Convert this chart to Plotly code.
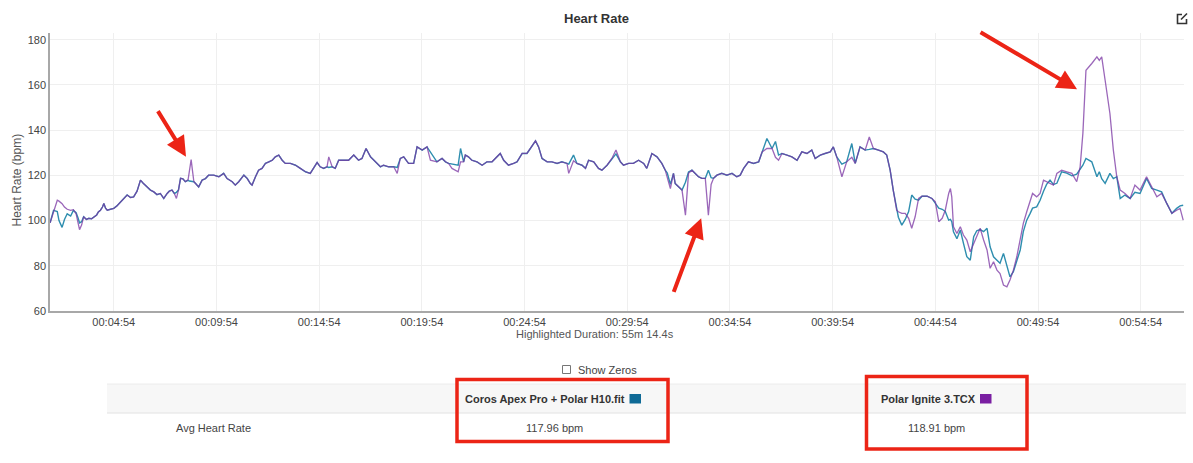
import plotly.graph_objects as go

# ---------------- data ----------------
t_sec = [108, 118, 129, 134, 143, 150, 158, 168, 176, 184, 190, 194, 200, 206, 214, 221, 229, 236, 244, 249,
         255, 261, 265, 270, 275, 284, 294, 303, 314, 322, 333, 343, 352, 362, 372, 380, 392, 401, 411, 420,
         430, 440, 450, 456, 464, 471, 477, 483, 489, 496, 503, 511, 515, 520, 524, 528, 533, 542, 552, 562,
         571, 586, 601, 615, 625, 640, 649, 659, 674, 684, 693, 698, 708, 717, 727, 737, 747, 757, 766, 776,
         786, 795, 810, 825, 839, 854, 868, 878, 888, 897, 907, 917, 922, 932, 941, 951, 966, 980, 995, 1009,
         1019, 1031, 1044, 1058, 1073, 1082, 1097, 1112, 1122, 1131, 1141, 1155, 1170, 1180, 1195, 1209, 1219, 1238, 1253, 1263,
         1272, 1282, 1300, 1307, 1316, 1321, 1330, 1340, 1355, 1370, 1384, 1399, 1413, 1423, 1433, 1447, 1462, 1472, 1487, 1501,
         1511, 1526, 1535, 1545, 1560, 1574, 1589, 1603, 1618, 1623, 1637, 1647, 1662, 1672, 1681, 1696, 1710, 1720, 1735, 1749,
         1761, 1774, 1783, 1798, 1812, 1827, 1842, 1851, 1866, 1881, 1895, 1905, 1911, 1920, 1929, 1934, 1944, 1954, 1964, 1973,
         1983, 1993, 2002, 2012, 2022, 2031, 2039, 2046, 2056, 2070, 2085, 2100, 2114, 2124, 2134, 2148, 2163, 2178, 2188, 2202,
         2217, 2227, 2236, 2246, 2261, 2275, 2290, 2304, 2319, 2333, 2343, 2358, 2372, 2387, 2396, 2406, 2421, 2435, 2450, 2460,
         2474, 2489, 2501, 2513, 2528, 2542, 2552, 2562, 2571, 2581, 2586, 2596, 2606, 2616, 2625, 2635, 2645, 2655, 2670, 2684,
         2694, 2704, 2714, 2723, 2733, 2738, 2742, 2747, 2757, 2767, 2776, 2786, 2796, 2806, 2815, 2825, 2835, 2845, 2854, 2864,
         2874, 2883, 2893, 2903, 2912, 2922, 2932, 2942, 2951, 2961, 2971, 2978, 2990, 3000, 3010, 3019, 3029, 3039, 3049, 3063,
         3078, 3093, 3107, 3117, 3125, 3134, 3151, 3166, 3173, 3180, 3190, 3204, 3214, 3224, 3234, 3248, 3263, 3277, 3292, 3311,
         3326, 3341, 3355, 3370, 3385, 3399, 3409, 3418]

polar_hr = [99, 104, 109, 108.6, 107.5, 106, 105, 104.5, 104.8, 103, 98.5, 96, 98, 101.7, 100.5, 101, 100.8, 101.7, 102.5, 103.8,
            104.6, 106, 107.6, 105.5, 104.6, 105, 105.4, 106.5, 108.3, 109.5, 111.3, 110.2, 110.5, 113, 117.9, 116.5, 115, 113.5, 112.7, 111.5,
            112, 109.8, 112, 113, 113.5, 112, 109.8, 113.5, 118.7, 118.5, 117.2, 118, 122, 127, 122, 117.2, 116.4, 114.9, 117.9, 118.6,
            120.1, 120.1, 119.4, 120.9, 118.6, 117.2, 115.7, 117.2, 120.1, 118.6, 116.4, 115.7, 119.4, 122.3, 123.1, 125.3, 126, 126.7, 128.2, 129,
            126.7, 125.3, 125.3, 124.5, 123.1, 121.6, 120.9, 123.1, 125.7, 123.8, 123.1, 123.8, 128.2, 123.8, 123.1, 126.7, 126.7, 126.7, 129, 126.7,
            127.5, 131.9, 128.2, 126, 123.8, 124.5, 123.8, 123.8, 120.9, 127.5, 128.2, 125.3, 125.3, 132.6, 131.2, 132.6, 126.7, 126, 127.5, 126,
            125.3, 123.1, 121.6, 126, 126, 129, 128.2, 126.7, 126, 124.5, 126, 126, 128.2, 129.7, 126.7, 124.5, 125.3, 126, 129.7, 129.7,
            131.9, 135.3, 132.6, 127.5, 126, 126, 125.3, 126, 125.3, 120.9, 126.5, 125.3, 124.5, 123.1, 126.7, 126, 123.1, 122.3, 124.5, 127.5,
            131.2, 126, 124.5, 125.3, 125.3, 126.7, 125.3, 123.1, 129.7, 128.2, 125.3, 122.3, 119, 114.2, 120.9, 116.4, 115, 113.5, 102.4, 120.9,
            122.3, 120.9, 119.4, 118.7, 118.7, 102.4, 116, 118.7, 120.1, 120.9, 120.1, 120.9, 119.4, 120.1, 123.1, 126, 125.3, 126, 130.4, 131.9,
            131.9, 128, 126.7, 129.7, 129, 128.2, 126.7, 130.4, 129.7, 131.2, 127.5, 129, 129.7, 130.4, 132.6, 128.2, 119.4, 126, 128, 125.3,
            132.6, 131.2, 137, 131.9, 131.2, 130.4, 129, 122.3, 113.5, 104.6, 103.9, 103.2, 103.2, 101, 96.6, 101.7, 109.8, 110.8, 110.8, 109.8,
            108.3, 99.5, 101, 104.6, 112, 114.2, 110.5, 97.3, 94.3, 97.3, 93.6, 91.4, 86.2, 89.9, 93.6, 96.6, 91.4, 87, 78.9, 81.8,
            78.1, 76.6, 71.5, 70.7, 73.7, 78.1, 84, 92.1, 98.8, 103.9, 109, 112, 110.5, 112, 117.9, 117.2, 116.4, 115.7, 120.9, 122.3,
            121.6, 120.9, 117.2, 123.8, 138.6, 166.5, 169.5, 172.4, 170.9, 172.4, 162.1, 147.4, 131.2, 119.4, 113.5, 112, 109.8, 115.7, 113.5, 119.4,
            115, 110.5, 112, 107.6, 103.2, 104.6, 105.4, 100.2]

coros_hr = [99, 104.5, 104, 100, 97, 100.5, 103, 102, 104.5, 103.5, 101, 99, 99.5, 101.7, 100.5, 101, 100.8, 101.7, 102.5, 103.8,
            104.6, 106, 107.6, 105.5, 104.6, 105, 105.4, 106.5, 108.3, 109.5, 111.3, 110.2, 110.5, 113, 117.9, 116.5, 115, 113.5, 112.7, 111.5,
            112, 109.8, 112, 113, 113.5, 112, 112.5, 113.5, 118.7, 118.5, 117.2, 117.8, 117.5, 117.5, 117.2, 117.2, 116.4, 114.9, 117.9, 118.6,
            120.1, 120.1, 119.4, 120.9, 118.6, 117.2, 115.7, 117.2, 120.1, 118.6, 116.4, 115.7, 119.4, 122.3, 123.1, 125.3, 126, 126.7, 128.2, 129,
            126.7, 125.3, 125.3, 124.5, 123.1, 121.6, 120.9, 123.1, 125.7, 123.8, 123.1, 123.8, 123.5, 123.8, 123.1, 126.7, 126.7, 126.7, 129, 126.7,
            127.5, 131.9, 128.2, 126, 123.8, 124.5, 123.8, 123.8, 123.5, 127.5, 128.2, 125.3, 125.3, 132.6, 131.2, 132.6, 130.5, 126, 127.5, 126,
            125.3, 125, 124.5, 131.9, 126, 129, 128.2, 126.7, 126, 124.5, 126, 126, 128.2, 129.7, 126.7, 124.5, 125.3, 126, 129.7, 129.7,
            131.9, 135.3, 132.6, 127.5, 126, 126, 125.3, 126, 125.3, 125, 129, 125.3, 124.5, 123.1, 126.7, 126, 123.1, 122.3, 124.5, 127.5,
            129.5, 126, 124.5, 125.3, 125.3, 126.7, 125.3, 123.1, 129.7, 128.2, 125.3, 122.3, 121, 116, 120.9, 116.4, 115, 113.5, 117, 121.5,
            122.3, 120.9, 119.4, 118.7, 118.7, 122.3, 119, 118.7, 120.1, 120.9, 120.1, 120.9, 119.4, 120.1, 123.1, 126, 125.3, 126, 130.4, 136.3,
            131.9, 135, 129, 129.7, 129, 128.2, 126.7, 130.4, 129.7, 131.2, 127.5, 129, 129.7, 130.4, 132.6, 128.2, 125, 126, 134.1, 125.3,
            132.6, 131.2, 131.5, 131.9, 131.2, 130.4, 129, 122.3, 113.5, 104.6, 101.5, 98, 100.5, 104, 111.3, 109.5, 109, 110.8, 110.8, 109.8,
            107.5, 105.5, 105, 104, 100.2, 100.5, 99.5, 95, 92, 95.8, 90, 84, 82.5, 92.9, 95.5, 96, 95.1, 96.6, 88.4, 84,
            82.5, 81.1, 85.5, 79.6, 75.1, 77.4, 82.5, 87, 95.1, 100.2, 103.2, 105.5, 106.1, 109, 113, 116, 117.9, 116, 116.5, 121.6,
            121, 119.8, 120.5, 122.5, 124.5, 127.5, 126, 119.4, 121.6, 118.5, 116.5, 120.9, 118.6, 119.4, 109.8, 111.3, 109.8, 112.5, 112, 118.6,
            114.2, 113.5, 112.7, 107.6, 103.2, 105.4, 106.5, 106.8]

x_tick_vals = [294, 594, 894, 1194, 1494, 1794, 2094, 2394, 2694, 2994, 3294]
x_tick_text = ["00:04:54", "00:09:54", "00:14:54", "00:19:54", "00:24:54", "00:29:54",
               "00:34:54", "00:39:54", "00:44:54", "00:49:54", "00:54:54"]
y_tick_vals = [60, 80, 100, 120, 140, 160, 180]

series_names = ["Coros Apex Pro + Polar H10.fit", "Polar Ignite 3.TCX"]
avg_values = ["117.96 bpm", "118.91 bpm"]
row_label = "Avg Heart Rate"
chart_title = "Heart Rate"
y_title = "Heart Rate (bpm)"
duration_label = "Highlighted Duration: 55m 14.4s"
checkbox_label = "Show Zeros"

# arrow heads (time s, bpm) that the red arrows point at
arrow_t = [505, 2010, 3108]
arrow_hr = [128.3, 101.0, 158.1]

# ---------------- layout geometry ----------------
W, H = 1193, 463
ML, MR, MT, MB = 50, 9, 33, 152
PW, PH = W - ML - MR, H - MT - MB


def px(x):
    return (x - ML) / PW


def py(y):
    return (H - MB - y) / PH


COROS_LINE = "#2388ab"
POLAR_LINE = "#7a35a3"
COROS_SQ = "#0f6a96"
POLAR_SQ = "#7a1fa2"
RED = "#ec2416"
FONT = "Liberation Sans, Arial, Helvetica, sans-serif"

fig = go.Figure()
fig.add_trace(go.Scatter(x=t_sec, y=coros_hr, mode="lines", name=series_names[0],
                         line=dict(color=COROS_LINE, width=1.4), opacity=0.95, hoverinfo="skip"))
fig.add_trace(go.Scatter(x=t_sec, y=polar_hr, mode="lines", name=series_names[1],
                         line=dict(color=POLAR_LINE, width=1.3), opacity=0.75, hoverinfo="skip"))

ann = []
ann.append(dict(text="<b>" + chart_title + "</b>", x=px(596.7), y=py(18.5), xref="paper", yref="paper",
                showarrow=False, font=dict(size=13, color="#333"), xanchor="center", yanchor="middle"))
ann.append(dict(text=y_title, x=px(16.5), y=py(180), xref="paper", yref="paper", textangle=-90,
                showarrow=False, font=dict(size=12, color="#555"), xanchor="center", yanchor="middle"))
ann.append(dict(text=duration_label, x=px(595), y=py(334), xref="paper", yref="paper",
                showarrow=False, font=dict(size=11, color="#555"), xanchor="center", yanchor="middle"))
ann.append(dict(text=checkbox_label, x=px(575.5), y=py(369.5), xref="paper", yref="paper",
                showarrow=False, font=dict(size=11, color="#444"), xanchor="left", yanchor="middle"))
# table header texts
ann.append(dict(text="<b>" + series_names[0] + "</b>", x=px(627), y=py(399), xref="paper", yref="paper",
                showarrow=False, font=dict(size=11, color="#333"), xanchor="right", yanchor="middle"))
ann.append(dict(text="<b>" + series_names[1] + "</b>", x=px(977.5), y=py(399), xref="paper", yref="paper",
                showarrow=False, font=dict(size=11, color="#333"), xanchor="right", yanchor="middle"))
ann.append(dict(text=avg_values[0], x=px(554.6), y=py(427.5), xref="paper", yref="paper",
                showarrow=False, font=dict(size=11, color="#444"), xanchor="center", yanchor="middle"))
ann.append(dict(text=avg_values[1], x=px(936.5), y=py(427.5), xref="paper", yref="paper",
                showarrow=False, font=dict(size=11, color="#444"), xanchor="center", yanchor="middle"))
ann.append(dict(text=row_label, x=px(213), y=py(427.5), xref="paper", yref="paper",
                showarrow=False, font=dict(size=11, color="#444"), xanchor="center", yanchor="middle"))
# red arrows
arrow_ax = [-29, -28, -98]
arrow_ay = [-47, 75, -58]
for t, hr, ax, ay in zip(arrow_t, arrow_hr, arrow_ax, arrow_ay):
    ann.append(dict(text="", x=t, y=hr, xref="x", yref="y", ax=ax, ay=ay, showarrow=True,
                    arrowhead=2, arrowsize=1.0, arrowwidth=4, arrowcolor=RED, standoff=0))

shapes = []
# table header band
shapes.append(dict(type="rect", xref="paper", yref="paper", x0=px(107), x1=px(1186), y0=py(413), y1=py(384),
                   fillcolor="#f7f7f7", line=dict(width=0), layer="below"))
shapes.append(dict(type="line", xref="paper", yref="paper", x0=px(107), x1=px(1186), y0=py(384), y1=py(384),
                   line=dict(color="#ececec", width=1)))
shapes.append(dict(type="line", xref="paper", yref="paper", x0=px(107), x1=px(1186), y0=py(413), y1=py(413),
                   line=dict(color="#e2e2e2", width=1)))
# legend colour squares
shapes.append(dict(type="rect", xref="paper", yref="paper", x0=px(629.5), x1=px(641), y0=py(403.5), y1=py(394),
                   fillcolor=COROS_SQ, line=dict(width=0)))
shapes.append(dict(type="rect", xref="paper", yref="paper", x0=px(980), x1=px(991.5), y0=py(403.5), y1=py(394),
                   fillcolor=POLAR_SQ, line=dict(width=0)))
# checkbox
shapes.append(dict(type="rect", xref="paper", yref="paper", x0=px(562.5), x1=px(570.5), y0=py(373.5), y1=py(365.5),
                   fillcolor="white", line=dict(color="#767676", width=1)))
# red highlight boxes
shapes.append(dict(type="rect", xref="paper", yref="paper", x0=px(457), x1=px(668), y0=py(441.5), y1=py(379.5),
                   fillcolor="rgba(0,0,0,0)", line=dict(color=RED, width=3.5)))
shapes.append(dict(type="rect", xref="paper", yref="paper", x0=px(866.5), x1=px(1027), y0=py(449), y1=py(376.5),
                   fillcolor="rgba(0,0,0,0)", line=dict(color=RED, width=3.5)))
# edit icon (top right)
shapes.append(dict(type="path", xref="paper", yref="paper",
                   path="M {a},{b} L {c},{b} L {c},{d} L {e},{d} L {e},{f}".format(
                       a=px(1182), b=py(14.5), c=px(1177.5), d=py(23.5), e=px(1186.5), f=py(19)),
                   line=dict(color="#333", width=1.6)))
shapes.append(dict(type="line", xref="paper", yref="paper", x0=px(1181), y0=py(19.5), x1=px(1187), y1=py(13.5),
                   line=dict(color="#333", width=1.6)))

fig.update_layout(
    width=W, height=H,
    margin=dict(l=ML, r=MR, t=MT, b=MB, pad=0),
    paper_bgcolor="white", plot_bgcolor="white",
    showlegend=False,
    font=dict(family=FONT, color="#555", size=11),
    annotations=ann, shapes=shapes,
    hovermode=False,
    xaxis=dict(range=[107.7, 3420.4], tickmode="array", tickvals=x_tick_vals, ticktext=x_tick_text,
               showgrid=True, gridcolor="#efefef", gridwidth=1, zeroline=False,
               showline=True, linecolor="#a8a8a8", linewidth=1.5, ticks="",
               tickfont=dict(size=11, color="#444"), automargin=False, fixedrange=True),
    yaxis=dict(range=[60, 183], tickmode="array", tickvals=y_tick_vals,
               showgrid=True, gridcolor="#efefef", gridwidth=1, zeroline=False,
               showline=True, linecolor="#a8a8a8", linewidth=1.5, ticks="",
               tickfont=dict(size=11, color="#444"), automargin=False, fixedrange=True),
)

fig.write_html("out.html", config={"displayModeBar": False},
               post_script="document.body.style.margin='0';document.body.style.padding='0';")
